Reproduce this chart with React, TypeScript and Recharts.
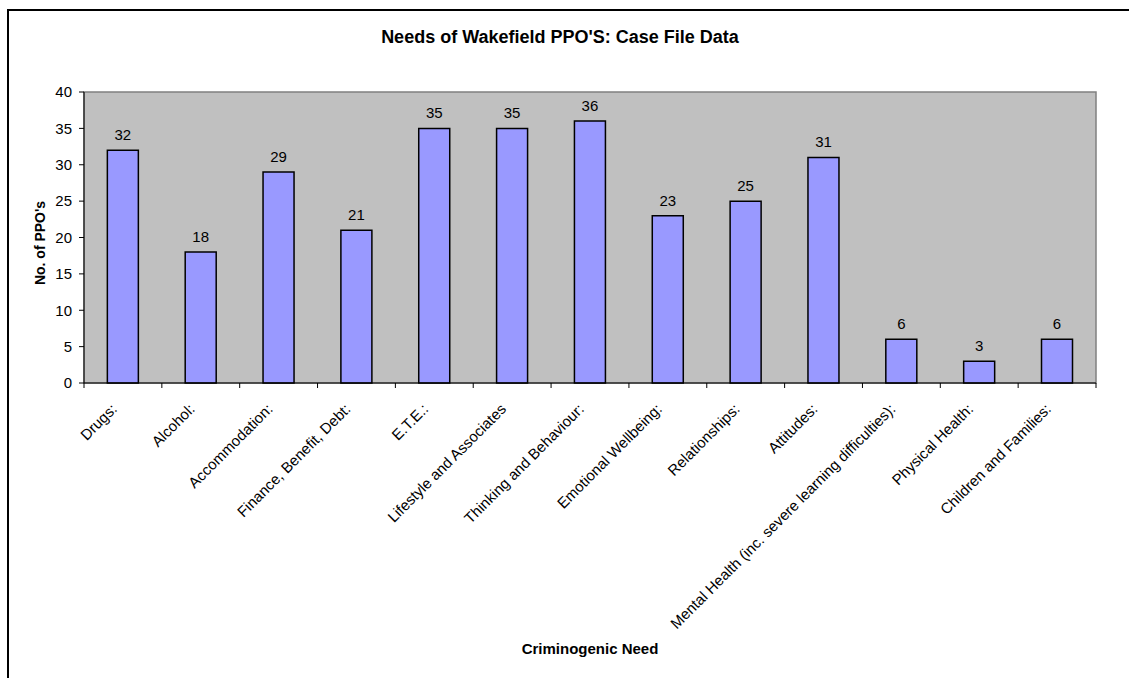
import { BarChart, Bar, XAxis, YAxis, CartesianGrid, ReferenceArea, LabelList } from 'recharts'

const needs = [
  'Drugs:',
  'Alcohol:',
  'Accommodation:',
  'Finance, Benefit, Debt:',
  'E.T.E.:',
  'Lifestyle and Associates',
  'Thinking and Behaviour:',
  'Emotional Wellbeing:',
  'Relationships:',
  'Attitudes:',
  'Mental Health (inc. severe learning difficulties):',
  'Physical Health:',
  'Children and Families:',
]
const ppoCounts = [32, 18, 29, 21, 35, 35, 36, 23, 25, 31, 6, 3, 6]
const yTicks = [0, 5, 10, 15, 20, 25, 30, 35, 40]

const data = needs.map((need, i) => ({ need, count: ppoCounts[i] }))

const W = 1129
const H = 678
const PLOT_LEFT = 84
const PLOT_TOP = 92
const PLOT_RIGHT = 1096
const AXIS_Y = 383
const BAND = (PLOT_RIGHT - PLOT_LEFT) / needs.length
const FONT = '"Liberation Sans", Arial, sans-serif'

function NeedTick(props: any) {
  const { x, payload, index } = props
  const ax = x - 5
  const ay = AXIS_Y + 27
  return (
    <g>
      <line x1={x - BAND / 2} x2={x - BAND / 2} y1={AXIS_Y} y2={AXIS_Y + 5} stroke="#000" />
      {index === needs.length - 1 && (
        <line x1={x + BAND / 2} x2={x + BAND / 2} y1={AXIS_Y} y2={AXIS_Y + 5} stroke="#000" />
      )}
      <text
        x={ax}
        y={ay}
        textAnchor="end"
        fontSize={15}
        fontFamily={FONT}
        fill="#000"
        transform={`rotate(-45 ${ax} ${ay})`}
      >
        {payload.value}
      </text>
    </g>
  )
}

function YTitle() {
  const cx = 40
  const cy = 243
  return (
    <text
      x={cx}
      y={cy}
      dy={5}
      textAnchor="middle"
      fontSize={14}
      fontWeight="bold"
      fontFamily={FONT}
      fill="#000"
      transform={`rotate(-90 ${cx} ${cy})`}
    >
      No. of PPO's
    </text>
  )
}

export default function App() {
  return (
    <div style={{ position: 'absolute', left: 0, top: 0, width: W, height: H, overflow: 'hidden', background: '#fff', fontFamily: FONT }}>
      {/* outer frame (cropped at right and bottom in the original) */}
      <div
        style={{
          position: 'absolute',
          left: 7,
          top: 9,
          width: 2000,
          height: 2000,
          borderTop: '2px solid #000',
          borderLeft: '2px solid #000',
        }}
      />
      <div
        style={{
          position: 'absolute',
          left: 0,
          width: 1120,
          top: 27,
          textAlign: 'center',
          fontSize: 18,
          fontWeight: 'bold',
          color: '#000',
        }}
      >
        Needs of Wakefield PPO'S: Case File Data
      </div>
      <div style={{ position: 'absolute', left: 0, top: 0 }}>
        <BarChart
          width={W}
          height={H}
          data={data}
          margin={{ top: PLOT_TOP, right: W - PLOT_RIGHT, left: 0, bottom: 0 }}
          barCategoryGap="30%"
        >
          <CartesianGrid fill="#C0C0C0" horizontal={false} vertical={false} stroke="none" />
          <ReferenceArea y1={0} y2={40} fill="none" fillOpacity={0} stroke="#808080" strokeWidth={1.5} ifOverflow="visible" />
          <XAxis
            dataKey="need"
            interval={0}
            height={H - AXIS_Y}
            tickLine={false}
            axisLine={{ stroke: '#000' }}
            tick={<NeedTick />}
            label={{
              value: 'Criminogenic Need',
              position: 'insideBottom',
              offset: 24,
              fontSize: 15,
              fontWeight: 'bold',
              fill: '#000',
              fontFamily: FONT,
            }}
          />
          <YAxis
            domain={[0, 40]}
            ticks={yTicks}
            width={PLOT_LEFT}
            tickSize={5}
            tickMargin={7}
            tickLine={{ stroke: '#000' }}
            axisLine={{ stroke: '#000' }}
            tick={{ fontSize: 15, fill: '#000', fontFamily: FONT }}
            label={{ content: () => <YTitle /> }}
          />
          <Bar dataKey="count" fill="#9999FF" stroke="#000" strokeWidth={1.5} isAnimationActive={false}>
            <LabelList dataKey="count" position="top" offset={10} fontSize={15} fill="#000" fontFamily={FONT} />
          </Bar>
        </BarChart>
      </div>
    </div>
  )
}
